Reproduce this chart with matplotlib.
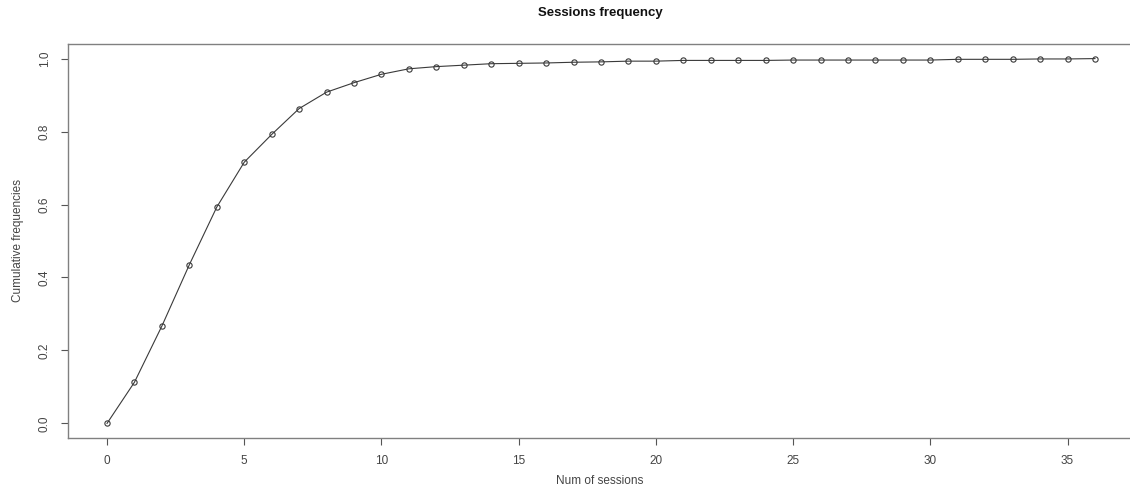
import matplotlib
matplotlib.use("Agg")
import matplotlib.pyplot as plt

sessions = list(range(0, 37))
cum_freq = [0.000, 0.113, 0.267, 0.435, 0.593, 0.716, 0.792, 0.863, 0.908, 0.934,
            0.957, 0.972, 0.978, 0.982, 0.986, 0.987, 0.988, 0.990, 0.991, 0.993,
            0.993, 0.995, 0.995, 0.995, 0.995, 0.996, 0.996, 0.996, 0.996, 0.996,
            0.996, 0.998, 0.998, 0.998, 0.999, 0.999, 1.000]
x_ticks = [0, 5, 10, 15, 20, 25, 30, 35]
y_ticks = [0.0, 0.2, 0.4, 0.6, 0.8, 1.0]
y_tick_labels = ["0.0", "0.2", "0.4", "0.6", "0.8", "1.0"]

plt.rcParams['font.family'] = ['Liberation Sans', 'DejaVu Sans']

W, H = 1130, 491
fig = plt.figure(figsize=(W / 100, H / 100), dpi=100)
left, right, top, bottom = 67.5, 1134.5, 44, 438
ax = fig.add_axes([left / W, 1 - bottom / H, (right - left) / W, (bottom - top) / H])

ax.plot(sessions, cum_freq, color='#3a3a3a', lw=0.8, marker='o', markersize=3.8,
        markerfacecolor='none', markeredgecolor='#3a3a3a', markeredgewidth=0.8)

ax.set_xlim(-1.44, 37.44)
ax.set_ylim(-0.04, 1.04)
ax.set_xticks(x_ticks)
ax.set_xticklabels([str(t) for t in x_ticks])
ax.set_yticks(y_ticks)
ax.set_yticklabels(y_tick_labels, rotation=90, va='center')

for s in ax.spines.values():
    s.set_color('#808080')
    s.set_linewidth(1.0)
ax.tick_params(axis='both', direction='out', length=5, width=0.8, color='#555555',
               labelsize=8.5, labelcolor='#444444', pad=7)

fig.text(600 / W, 1 - 13 / H, "Sessions frequency", ha='center', va='center',
         fontsize=9.5, fontweight='bold', color='#111111')
fig.text(600 / W, 1 - 481 / H, "Num of sessions", ha='center', va='center',
         fontsize=8.5, color='#444444')
fig.text(18 / W, 1 - 241 / H, "Cumulative frequencies", ha='center', va='center',
         rotation=90, fontsize=8.5, color='#444444')

fig.savefig("out.png", dpi=100)
